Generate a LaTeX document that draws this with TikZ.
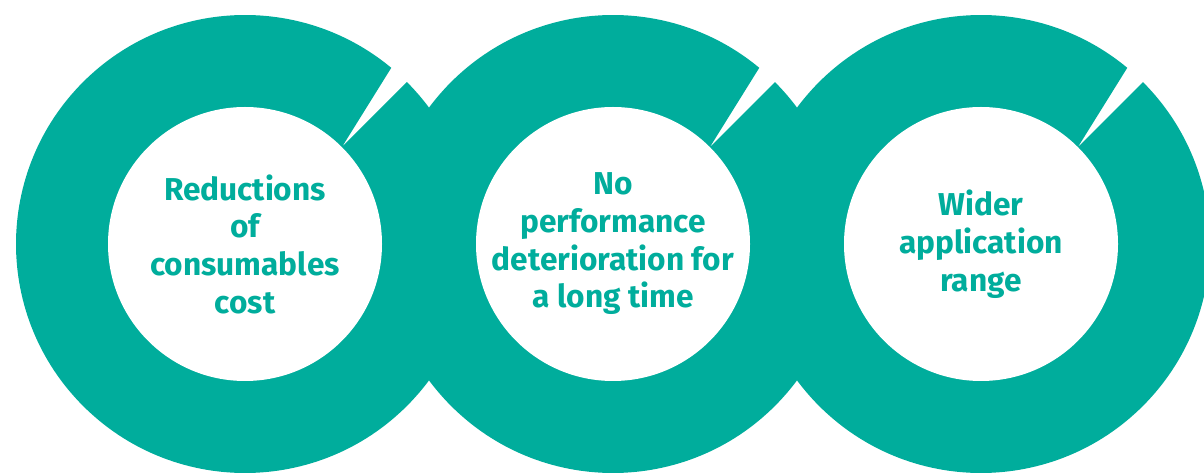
\documentclass[tikz,border=0pt]{standalone}
\usepackage{fontspec}
\setmainfont{Fira Sans}
\usetikzlibrary{calc}
\definecolor{ringteal}{RGB}{0,173,156}
\tikzset{
  ring/.style={fill=ringteal},
  hole/.style={fill=white},
  ringtext/.style={align=center,text=ringteal,
    font=\bfseries\fontsize{22.5}{26.8}\selectfont}
}
\begin{document}
\begin{tikzpicture}[x=0.025cm,y=0.025cm]
      \useasboundingbox (0,0) rectangle (1204,473);
      \clip (0,0) rectangle (1204,473);
      \coordinate (c1) at (245,229);
      \coordinate (c2) at (613,229);
      \coordinate (c3) at (981,229);
      % teal rings, each with a notch at the upper right
      \fill[ring] (c1) ++(45:229) arc[start angle=45,end angle=-309.7,radius=229]
        -- ($(c1)+(45:137)$) -- cycle;
      \fill[ring] (c2) ++(45:229) arc[start angle=45,end angle=-309.7,radius=229]
        -- ($(c2)+(45:137)$) -- cycle;
      \fill[ring] (c3) ++(45:229) arc[start angle=45,end angle=-309.7,radius=229]
        -- ($(c3)+(45:137)$) -- cycle;
      \begin{scope}[hole]
        \fill (c1) circle[radius=137];
        \fill (c2) circle[radius=137];
        \fill (c3) circle[radius=137];
      \end{scope}
      \node[ringtext] (cost) at (c1) {Reductions\\of\\consumables\\cost};
      \node[ringtext] (life) at (c2) {No\\performance\\deterioration for\\a long time};
      \node[ringtext] (range) at (c3) {Wider\\application\\range};
    \end{tikzpicture}
\end{document}
